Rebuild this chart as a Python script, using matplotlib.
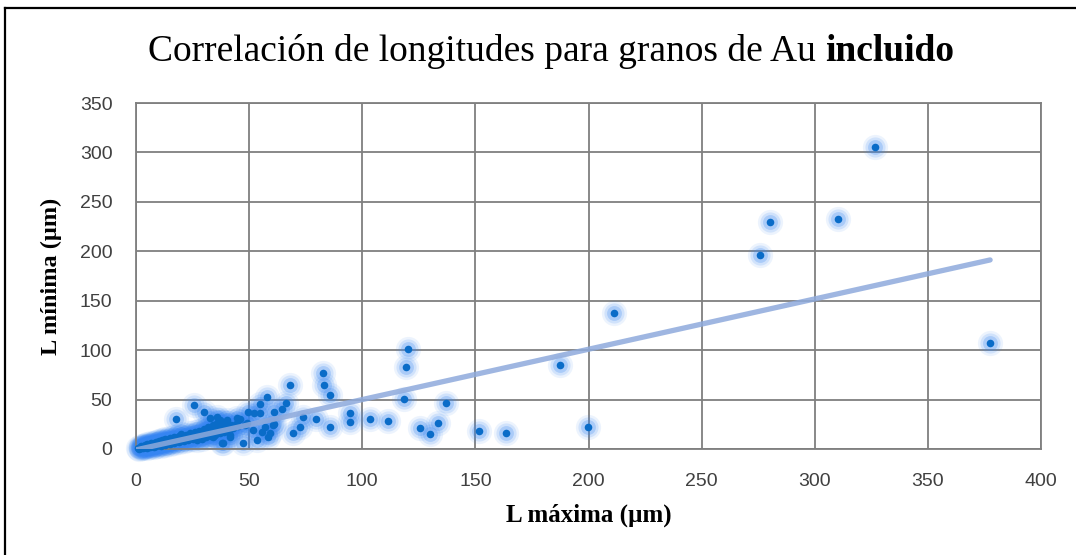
import numpy as np
import matplotlib.pyplot as plt
from matplotlib.lines import Line2D

# Longitudes de granos de Au incluido (µm)
l_max = [
    1, 1.5, 2, 2, 2.5, 3, 3, 3.5, 4, 4, 4.5, 5, 5, 5.5, 6, 6, 6.5, 7, 7, 7.5,
    8, 8, 8.5, 9, 9, 9.5, 10, 10, 10.5, 11, 11, 11.5, 12, 12, 12.5, 13, 13, 13.5,
    14, 14, 15, 15, 15, 16, 16, 17, 17, 17, 18, 18, 19, 19, 20, 20, 20, 21, 21,
    22, 22, 23, 23, 24, 24, 25, 25, 26, 26, 27, 27, 28, 28, 29, 29, 30, 30, 31,
    31, 32, 32, 33, 33, 34, 34, 35, 35, 36, 36, 37, 37, 38, 38, 39, 40, 40, 41,
    42, 43, 44, 45,
    17.7, 25.6, 30.1, 32.7, 35.7, 37.1, 40.1, 34.2, 37.9, 38.6, 41.5, 41.5,
    44.5, 46, 47.4, 48.2, 49.2, 49.6, 51.8, 52.2, 53.3, 54.8, 54.8, 55.5, 57,
    57.8, 58.5, 59.2, 60.4, 61, 61, 64.4, 66.2, 68, 69.5, 72.5, 74, 79.6, 82.8,
    83.1, 85.7, 85.7, 94.6, 94.6, 103.4, 111.2, 118.5, 119.3, 120.3, 125.5, 130,
    133.6, 137, 151.5, 163.5, 187.4, 199.8, 211.3, 275.8, 280.2, 310.3, 326.6,
    377.5,
]
l_min = [
    1, 0.5, 1.5, 3, 2, 1, 2.5, 3.5, 2, 4, 3, 1.5, 5, 3.5, 2.5, 4.5, 6, 3, 5, 4,
    2, 6, 5, 3.5, 7, 5.5, 4, 8, 6, 3, 7, 9, 5, 8, 6.5, 4, 10, 7,
    6, 9, 5, 8, 11, 7, 10, 6, 9, 12, 8, 11, 7, 13, 9, 12, 15, 8, 11,
    10, 14, 9, 12, 11, 16, 10, 13, 12, 17, 9, 15, 12, 18, 14, 10, 16, 20, 12,
    18, 15, 22, 13, 19, 17, 24, 14, 21, 18, 26, 16, 23, 20, 27, 17, 22, 26, 19,
    24, 21, 25, 23,
    30.7, 44.5, 37.8, 31, 32.7, 29.3, 29.3, 12.4, 5.8, 5.8, 12.4, 14.2,
    31, 30, 5.8, 24.3, 26, 37.8, 19.2, 36, 9.1, 36, 45.5, 17.5, 22.6,
    52.3, 12.4, 15.8, 24.3, 37.8, 25, 40, 46.5, 64.5, 15.8, 22.4, 32, 30, 76.6,
    64.7, 54.6, 21.9, 36.5, 27.6, 30, 28.3, 50.3, 82.6, 101.2, 21.6, 15.5,
    26, 46.2, 18, 16.5, 85, 22.5, 137.6, 196.5, 229.6, 232.7, 305.5,
    107.2,
]

# Línea de tendencia lineal
trend_slope = 0.509
trend_intercept = -0.9

x_ticks = [0, 50, 100, 150, 200, 250, 300, 350, 400]
y_ticks = [0, 50, 100, 150, 200, 250, 300, 350]

x = np.array(l_max)
y = np.array(l_min)

fig = plt.figure(figsize=(10.76, 5.55), dpi=100)
ax = fig.add_axes([0.1264, 0.191, 0.8411, 0.6234])

# halo difuso alrededor de cada punto
for s, a in [(330, 0.09), (210, 0.15), (115, 0.24)]:
    ax.scatter(x, y, s=s, color='#3585f2', alpha=a, linewidths=0, zorder=2,
               clip_on=False)
ax.scatter(x, y, s=30, color='#0a6cc8', linewidths=0, zorder=3, clip_on=False)

xt = np.array([0, x.max()])
ax.plot(xt, trend_slope * xt + trend_intercept, color='#8eaadc',
        lw=3.8, alpha=0.85, solid_capstyle='round', zorder=4)

ax.set_xlim(0, 400)
ax.set_ylim(0, 350)
ax.set_xticks(x_ticks)
ax.set_yticks(y_ticks)
ax.grid(True, color='#7f7f7f', lw=1.3)
ax.set_axisbelow(True)
for sp in ax.spines.values():
    sp.set_color('#7f7f7f')
    sp.set_linewidth(1.3)
ax.tick_params(length=0, labelsize=14, labelcolor='#404040')
ax.tick_params(axis='x', pad=17)
ax.tick_params(axis='y', pad=17)
for lab in ax.get_xticklabels() + ax.get_yticklabels():
    lab.set_family('Liberation Sans')

ax.set_xlabel('L máxima (µm)', family='Liberation Serif', fontweight='bold',
              fontsize=18, labelpad=10)
ax.set_ylabel('L mínima (µm)', family='Liberation Serif', fontweight='bold',
              fontsize=17.5, labelpad=13)

# título con la última palabra en negrita
t1 = fig.text(0.1375, 0.875, 'Correlación de longitudes para granos de Au ',
              family='Liberation Serif', fontsize=27, ha='left', va='bottom')
ax.annotate('incluido', xy=(1, 0), xycoords=t1, family='Liberation Serif',
            fontsize=27, fontweight='bold', ha='left', va='bottom')

# marco exterior
fig.add_artist(Line2D([5 / 1076, 5 / 1076], [0, 1 - 8 / 555], color='black', lw=1.6))
fig.add_artist(Line2D([5 / 1076, 1], [1 - 8 / 555, 1 - 8 / 555], color='black', lw=1.6))

fig.savefig('out.png', dpi=100)
